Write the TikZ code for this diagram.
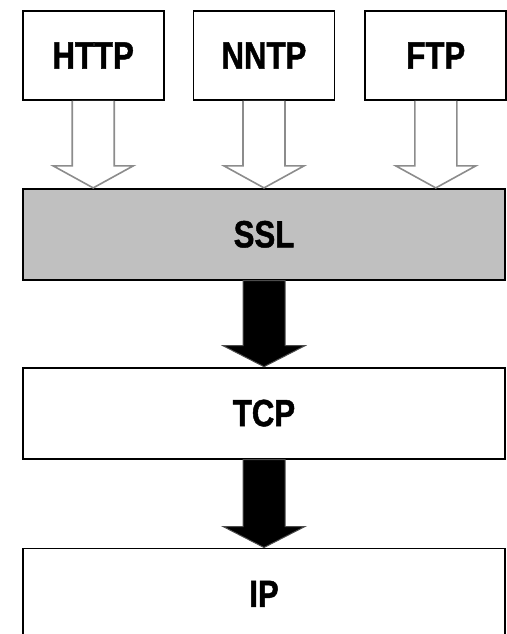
\documentclass[tikz,border=0pt]{standalone}
\usepackage{fontspec}
\newfontfamily\layerfont[FakeStretch=0.82, FakeBold=1.2]{Liberation Sans Bold}
\usetikzlibrary{calc}
\usetikzlibrary{positioning}
\definecolor{sslgray}{HTML}{C0C0C0}
\definecolor{pipegray}{HTML}{8C8C8C}

\tikzset{
    layer/.style={draw=black, line width=1.8pt, inner sep=0pt,
        font=\layerfont\fontsize{38}{40}\selectfont},
    toplayer/.style={layer, minimum width=141pt, minimum height=89pt},
    widelayer/.style={layer, minimum width=482pt, minimum height=91pt},
    hollowarrow/.style={draw=pipegray, line width=1.6pt, fill=white, line join=miter},
    solidarrow/.style={draw=black!70, line width=1pt, fill=black, line join=miter}
}

\begin{document}
\begin{tikzpicture}[x=1pt, y=-1pt]
        \useasboundingbox (0,0) rectangle (506,634);

        % Application protocols
        \node[toplayer] (nntp) at (264, 55.5) {NNTP};
        \node[toplayer, left=28pt of nntp] (http) {HTTP};
        \node[toplayer, right=29pt of nntp] (ftp) {FTP};

        % Layers below
        \node[widelayer, fill=sslgray, below=87pt of nntp] (ssl) {SSL};
        \node[widelayer, below=86pt of ssl] (tcp) {TCP};
        \node[widelayer, below=88pt of tcp] (ip) {IP};

        % Open arrows into SSL
        \draw[hollowarrow] ($(http.south)+(-21,0)$) -- ($(http.south |- ssl.north)+(-21,-22)$)
            -- ($(http.south |- ssl.north)+(-40,-22)$) -- (http.south |- ssl.north)
            -- ($(http.south |- ssl.north)+(40,-22)$) -- ($(http.south |- ssl.north)+(21,-22)$)
            -- ($(http.south)+(21,0)$);
        \draw[hollowarrow] ($(nntp.south)+(-21,0)$) -- ($(nntp.south |- ssl.north)+(-21,-22)$)
            -- ($(nntp.south |- ssl.north)+(-40,-22)$) -- (nntp.south |- ssl.north)
            -- ($(nntp.south |- ssl.north)+(40,-22)$) -- ($(nntp.south |- ssl.north)+(21,-22)$)
            -- ($(nntp.south)+(21,0)$);
        \draw[hollowarrow] ($(ftp.south)+(-21,0)$) -- ($(ftp.south |- ssl.north)+(-21,-22)$)
            -- ($(ftp.south |- ssl.north)+(-40,-22)$) -- (ftp.south |- ssl.north)
            -- ($(ftp.south |- ssl.north)+(40,-22)$) -- ($(ftp.south |- ssl.north)+(21,-22)$)
            -- ($(ftp.south)+(21,0)$);

        % Solid arrows down the stack
        \draw[solidarrow] ($(ssl.south)+(-21,0)$) -- ($(tcp.north)+(-21,-21)$)
            -- ($(tcp.north)+(-41,-21)$) -- (tcp.north) -- ($(tcp.north)+(41,-21)$)
            -- ($(tcp.north)+(21,-21)$) -- ($(ssl.south)+(21,0)$) -- cycle;
        \draw[solidarrow] ($(tcp.south)+(-21,0)$) -- ($(ip.north)+(-21,-21)$)
            -- ($(ip.north)+(-41,-21)$) -- (ip.north) -- ($(ip.north)+(41,-21)$)
            -- ($(ip.north)+(21,-21)$) -- ($(tcp.south)+(21,0)$) -- cycle;

    \end{tikzpicture}
\end{document}
